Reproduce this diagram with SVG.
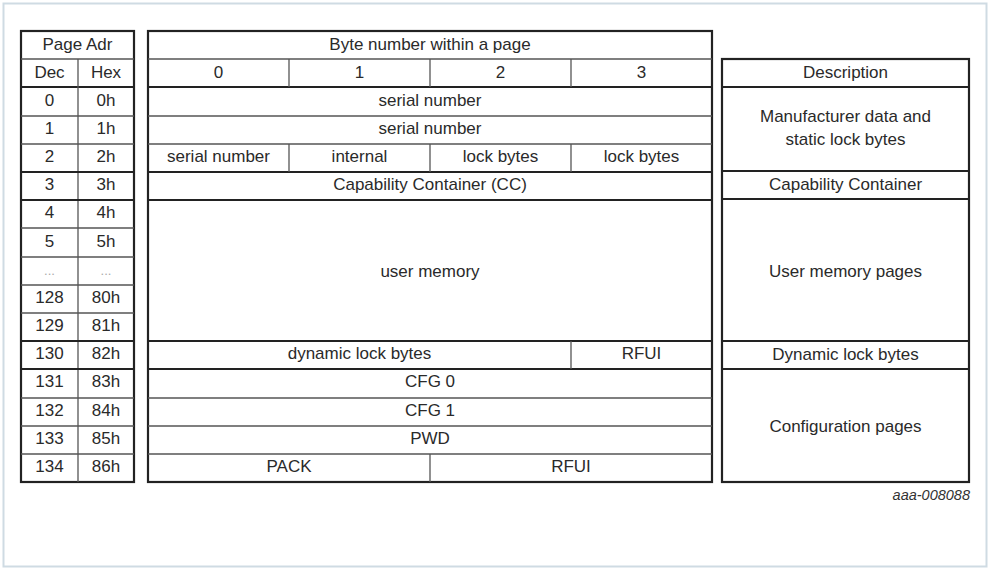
<svg xmlns="http://www.w3.org/2000/svg" width="991" height="570" viewBox="0 0 991 570">
<style>
text{font-family:"Liberation Sans",Arial,sans-serif;font-size:17px;fill:#2a2a2a;text-anchor:middle}
.b{fill:none;stroke:#222;stroke-width:2.2}
.t{stroke:#222;stroke-width:2.2}
.n{stroke:#555;stroke-width:1.3}
.d{fill:#aaa;font-size:13px}
.id{font-size:14.5px;font-style:italic;text-anchor:end;fill:#333}
</style>
<rect x="0" y="0" width="991" height="570" fill="#fff"/>
<rect x="3.5" y="3.5" width="983" height="563" fill="#fff" stroke="#cfdbe3" stroke-width="2"/>

<g id="page-adr">
<rect class="b" x="21" y="31" width="113" height="451"/>
<line class="n" x1="21" y1="59" x2="134" y2="59"/>
<line class="t" x1="21" y1="87" x2="134" y2="87"/>
<line class="n" x1="78" y1="59" x2="78" y2="482"/>
<g>
<line class="n" x1="21" y1="116" x2="134" y2="116"/>
<line class="n" x1="21" y1="144" x2="134" y2="144"/>
<line class="t" x1="21" y1="172" x2="134" y2="172"/>
<line class="t" x1="21" y1="200" x2="134" y2="200"/>
<line class="n" x1="21" y1="228" x2="134" y2="228"/>
<line class="n" x1="21" y1="257" x2="134" y2="257"/>
<line class="n" x1="21" y1="285" x2="134" y2="285"/>
<line class="n" x1="21" y1="313" x2="134" y2="313"/>
<line class="t" x1="21" y1="341" x2="134" y2="341"/>
<line class="t" x1="21" y1="369" x2="134" y2="369"/>
<line class="n" x1="21" y1="398" x2="134" y2="398"/>
<line class="n" x1="21" y1="426" x2="134" y2="426"/>
<line class="n" x1="21" y1="454" x2="134" y2="454"/>
</g>
<text x="77.5" y="50">Page Adr</text>
<text x="49.5" y="78">Dec</text><text x="106" y="78">Hex</text>
<text x="49.5" y="106">0</text><text x="106" y="106">0h</text>
<text x="49.5" y="134">1</text><text x="106" y="134">1h</text>
<text x="49.5" y="162">2</text><text x="106" y="162">2h</text>
<text x="49.5" y="190">3</text><text x="106" y="190">3h</text>
<text x="49.5" y="218">4</text><text x="106" y="218">4h</text>
<text x="49.5" y="247">5</text><text x="106" y="247">5h</text>
<text class="d" x="49.5" y="275">...</text><text class="d" x="106" y="275">...</text>
<text x="49.5" y="303">128</text><text x="106" y="303">80h</text>
<text x="49.5" y="331">129</text><text x="106" y="331">81h</text>
<text x="49.5" y="359">130</text><text x="106" y="359">82h</text>
<text x="49.5" y="387">131</text><text x="106" y="387">83h</text>
<text x="49.5" y="416">132</text><text x="106" y="416">84h</text>
<text x="49.5" y="444">133</text><text x="106" y="444">85h</text>
<text x="49.5" y="472">134</text><text x="106" y="472">86h</text>
</g>

<g id="byte-table">
<rect class="b" x="148" y="31" width="564" height="451"/>
<line class="n" x1="148" y1="59" x2="712" y2="59"/>
<line class="t" x1="148" y1="87" x2="712" y2="87"/>
<line class="n" x1="148" y1="116" x2="712" y2="116"/>
<line class="n" x1="148" y1="144" x2="712" y2="144"/>
<line class="t" x1="148" y1="172" x2="712" y2="172"/>
<line class="t" x1="148" y1="200" x2="712" y2="200"/>
<line class="t" x1="148" y1="341" x2="712" y2="341"/>
<line class="t" x1="148" y1="369" x2="712" y2="369"/>
<line class="n" x1="148" y1="398" x2="712" y2="398"/>
<line class="n" x1="148" y1="426" x2="712" y2="426"/>
<line class="n" x1="148" y1="454" x2="712" y2="454"/>
<line class="n" x1="289" y1="59" x2="289" y2="87"/>
<line class="n" x1="430" y1="59" x2="430" y2="87"/>
<line class="n" x1="571" y1="59" x2="571" y2="87"/>
<line class="n" x1="289" y1="144" x2="289" y2="172"/>
<line class="n" x1="430" y1="144" x2="430" y2="172"/>
<line class="n" x1="571" y1="144" x2="571" y2="172"/>
<line class="n" x1="571" y1="341" x2="571" y2="369"/>
<line class="n" x1="430" y1="454" x2="430" y2="482"/>
<text x="430" y="50">Byte number within a page</text>
<text x="218.5" y="78">0</text><text x="359.5" y="78">1</text><text x="500.5" y="78">2</text><text x="641.5" y="78">3</text>
<text x="430" y="106">serial number</text>
<text x="430" y="134">serial number</text>
<text x="218.5" y="162">serial number</text><text x="359.5" y="162">internal</text><text x="500.5" y="162">lock bytes</text><text x="641.5" y="162">lock bytes</text>
<text x="430" y="190">Capability Container (CC)</text>
<text x="430" y="277">user memory</text>
<text x="359.5" y="359">dynamic lock bytes</text><text x="641.5" y="359">RFUI</text>
<text x="430" y="387">CFG 0</text>
<text x="430" y="416">CFG 1</text>
<text x="430" y="444">PWD</text>
<text x="289" y="472">PACK</text><text x="571" y="472">RFUI</text>
</g>

<g id="description">
<rect class="b" x="722" y="59" width="247" height="423"/>
<line class="t" x1="722" y1="87" x2="969" y2="87"/>
<line class="t" x1="722" y1="171" x2="969" y2="171"/>
<line class="t" x1="722" y1="199" x2="969" y2="199"/>
<line class="t" x1="722" y1="341" x2="969" y2="341"/>
<line class="t" x1="722" y1="369" x2="969" y2="369"/>
<text x="845.5" y="78">Description</text>
<text x="845.5" y="122">Manufacturer data and</text>
<text x="845.5" y="145">static lock bytes</text>
<text x="845.5" y="190">Capability Container</text>
<text x="845.5" y="277">User memory pages</text>
<text x="845.5" y="360">Dynamic lock bytes</text>
<text x="845.5" y="432">Configuration pages</text>
</g>

<text class="id" x="970" y="500">aaa-008088</text>
</svg>
